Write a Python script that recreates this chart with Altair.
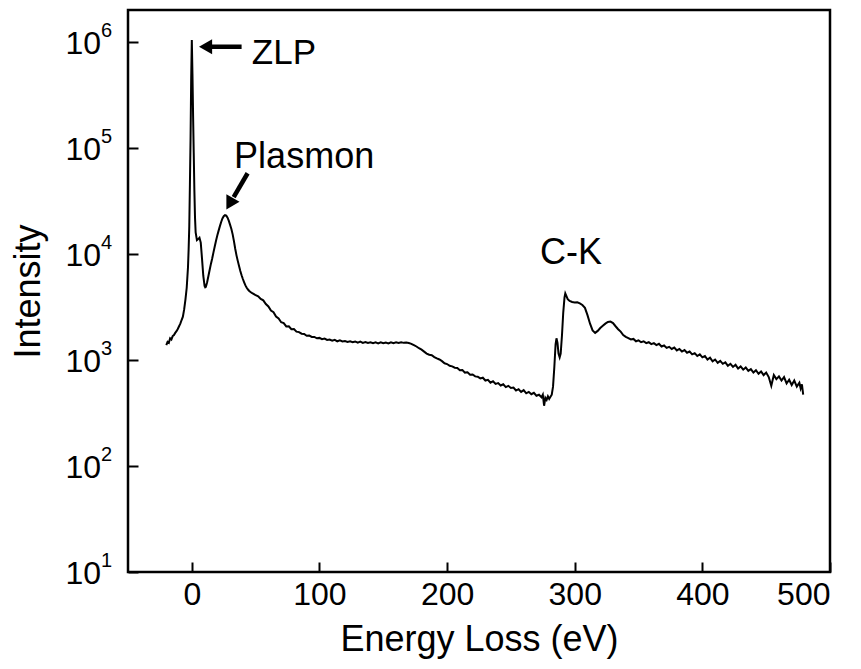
import altair as alt
import pandas as pd

# ---- spectrum (energy in eV, intensity in counts) ----
energy_zlp = [-20, -19, -18, -17, -16, -15, -14, -13, -12, -11, -10, -9, -8, -7, -6, -5, -4, -3,
              -2.5, -2, -1.5, -1, -0.5, 0, 0.5, 1, 1.5, 2, 2.5, 3,
              4, 5, 6, 7, 8, 9, 10, 10.5,
              11, 12, 13, 14, 15, 16, 17, 18, 19, 20, 21, 22, 23, 24, 25, 26, 27, 28, 29, 30,
              31, 32, 33, 34, 35, 36, 37, 38, 39, 40, 41, 42, 43, 44, 45, 46, 47, 48, 49]
intensity_zlp = [1380, 1480, 1450, 1600, 1560, 1680, 1720, 1800, 1870, 1960, 2080, 2200, 2380, 2560, 3000, 3700, 4800, 7500,
                 11000, 18000, 45000, 120000, 450000, 1040000, 500000, 200000, 90000, 40000, 22000, 16000,
                 13500, 13800, 14200, 12800, 9000, 6200, 5000, 4850,
                 4900, 5400, 6200, 7100, 8100, 9100, 10400, 11800, 13400, 15000, 16600, 18300, 20000, 21600, 22700, 23200, 23000, 22000, 20500, 18800,
                 17200, 15300, 13200, 11200, 9700, 8600, 7700, 6900, 6300, 5800, 5400, 5050, 4800, 4620, 4480, 4380, 4300, 4230, 4160]

energy_tail = [50, 52, 54, 56, 58, 60, 62, 64, 66, 68, 70, 72, 74, 76, 78, 80, 82, 84, 86, 88,
               90, 92, 94, 96, 98, 100, 102, 104, 106, 108, 110, 112, 114, 116, 118, 120, 122, 124, 126, 128,
               130, 132, 134, 136, 138, 140, 142, 144, 146, 148, 150, 152, 154, 156, 158, 160, 162, 164, 166, 168,
               170, 172, 174]
intensity_tail = [4080, 3990, 3760, 3650, 3370, 3200, 2920, 2820, 2570, 2460,
                  2270, 2230, 2070, 2080, 1950, 1960, 1850, 1830, 1770, 1760,
                  1690, 1700, 1650, 1650, 1600, 1615, 1570, 1590, 1545, 1560,
                  1520, 1550, 1500, 1530, 1495, 1510, 1480, 1500, 1470, 1495,
                  1455, 1490, 1450, 1475, 1445, 1470, 1440, 1465, 1435, 1470,
                  1440, 1460, 1435, 1470, 1440, 1465, 1445, 1470, 1450, 1460,
                  1445, 1420, 1380]

energy_pre = [176, 178, 180, 182, 184, 186, 188, 190, 192, 194, 196, 198, 200, 202, 204, 206, 208, 210, 212, 214,
              216, 218, 220, 222, 224, 226, 228, 230, 232, 234, 236, 238, 240, 242, 244, 246, 248, 250, 252, 254,
              256, 258, 260, 262, 264, 266, 268, 270, 272, 274]
intensity_pre = [1340, 1290, 1250, 1200, 1150, 1120, 1110, 1065, 1035, 1010,
                 975, 930, 915, 880, 870, 845, 840, 800, 805, 760,
                 765, 725, 730, 700, 695, 670, 680, 640, 650, 610,
                 630, 595, 605, 575, 590, 555, 570, 545, 550, 515,
                 530, 500, 520, 485, 500, 475, 490, 460, 470, 445]

energy_ck = [275, 276, 277, 278, 279, 280, 281, 282, 283, 284, 285,
             285.7, 286.5, 287.3, 288.2, 289, 290, 291, 292, 292.6, 293.5, 294.5,
             296, 298, 300, 302, 304, 306, 308, 310, 312, 314, 316, 318, 320, 322, 324, 326, 328, 330,
             332, 334, 336, 338, 340, 342]
intensity_ck = [470, 370, 440, 420, 455, 430, 450, 470, 560, 850, 1400,
                1600, 1450, 1150, 1060, 1150, 1700, 2800, 3900, 4250, 4000, 3750,
                3600, 3520, 3480, 3500, 3420, 3300, 3100, 2650, 2200, 1900, 1800, 1880, 2000, 2100, 2200, 2280, 2300, 2230,
                2080, 1950, 1850, 1720, 1650, 1610]

energy_post = [344, 346, 348, 350, 352, 354, 356, 358, 360, 362, 364, 366, 368, 370, 372, 374, 376, 378, 380, 382,
               384, 386, 388, 390, 392, 394, 396, 398, 400, 402, 404, 406, 408, 410, 412, 414, 416, 418, 420, 422,
               424, 426, 428, 430, 432, 434, 436, 438, 440, 442, 444, 446, 448, 450, 452, 454, 456, 458, 460, 462,
               464, 466, 468, 470, 472, 474, 476, 477, 478, 479]
intensity_post = [1560, 1580, 1500, 1530, 1470, 1500, 1440, 1470, 1410, 1440,
                  1380, 1420, 1340, 1370, 1300, 1330, 1270, 1310, 1230, 1270,
                  1200, 1240, 1170, 1200, 1130, 1160, 1090, 1130, 1060, 1090,
                  1010, 1050, 970, 1010, 940, 980, 920, 950, 880, 920,
                  860, 900, 830, 870, 810, 850, 790, 820, 760, 800,
                  740, 780, 720, 760, 690, 570, 720, 660, 700, 640,
                  690, 600, 650, 580, 640, 560, 610, 540, 590, 470]

x_ticks = [0, 100, 200, 300, 400, 500]
y_ticks = [10, 100, 1000, 10000, 100000, 1000000]
y_tick_base = ["10", "10", "10", "10", "10", "10"]
y_tick_exponent = ["1", "2", "3", "4", "5", "6"]

# annotations (data coordinates)
left_label_text = ["ZLP"]
left_label_x = [47]
left_label_y = [790000]
center_label_text = ["Plasmon", "C-K"]
center_label_x = [88, 297]
center_label_y = [83000, 10200]

arrow_x = [39, 43.7]
arrow_x2 = [12.5, 32.8]
arrow_y = [900000, 57700]
arrow_y2 = [900000, 34300]
head_x = [12.5, 30.5]
head_y = [900000, 31000]
head_angle = [270, 210]

energy = energy_zlp + energy_tail + energy_pre + energy_ck + energy_post
intensity = intensity_zlp + intensity_tail + intensity_pre + intensity_ck + intensity_post
df = pd.DataFrame({"E": energy, "I": intensity})

FONT = "Liberation Sans"
x_scale = alt.Scale(domain=[-50, 500], nice=False, zero=False)
y_scale = alt.Scale(type="log", domain=[10, 2000000], nice=False)

x_axis = alt.Axis(values=x_ticks, title="Energy Loss (eV)", domain=False, grid=False,
                  tickSize=10, tickWidth=2, tickColor="black", offset=-10,
                  labelFontSize=32, labelFont=FONT, labelColor="black", labelPadding=7,
                  titleFontSize=36, titleFont=FONT, titleFontWeight="normal", titleColor="black",
                  titlePadding=12)
y_axis = alt.Axis(values=y_ticks, title="Intensity", domain=False, grid=False, labels=False,
                  tickSize=10, tickWidth=2, tickColor="black", offset=-10,
                  titleFontSize=36, titleFont=FONT, titleFontWeight="normal", titleColor="black",
                  titlePadding=80)

line = alt.Chart(df).mark_line(color="black", strokeWidth=2).encode(
    x=alt.X("E:Q", scale=x_scale, axis=x_axis),
    y=alt.Y("I:Q", scale=y_scale, axis=y_axis),
    order="E:Q",
)

ylab = pd.DataFrame({"v": y_ticks, "b": y_tick_base, "e": y_tick_exponent})
ylab_base = alt.Chart(ylab).mark_text(fontSize=32, font=FONT, color="black", align="right", baseline="middle", dy=2).encode(
    x=alt.value(-27), y=alt.Y("v:Q", scale=y_scale), text="b:N",
)
ylab_exp = alt.Chart(ylab).mark_text(fontSize=20, font=FONT, color="black", align="left", baseline="middle", dy=-11).encode(
    x=alt.value(-27), y=alt.Y("v:Q", scale=y_scale), text="e:N",
)

ann_left = pd.DataFrame({"t": left_label_text, "x": left_label_x, "y": left_label_y})
texts_left = alt.Chart(ann_left).mark_text(fontSize=35, font=FONT, color="black", baseline="middle", align="left").encode(
    x=alt.X("x:Q", scale=x_scale), y=alt.Y("y:Q", scale=y_scale), text="t:N",
)
ann_center = pd.DataFrame({"t": center_label_text, "x": center_label_x, "y": center_label_y})
texts_center = alt.Chart(ann_center).mark_text(fontSize=36, font=FONT, color="black", baseline="middle", align="center").encode(
    x=alt.X("x:Q", scale=x_scale), y=alt.Y("y:Q", scale=y_scale), text="t:N",
)

arr = pd.DataFrame({"x": arrow_x, "x2": arrow_x2, "y": arrow_y, "y2": arrow_y2})
shafts = alt.Chart(arr).mark_rule(color="black", strokeWidth=4.5).encode(
    x=alt.X("x:Q", scale=x_scale), x2="x2:Q", y=alt.Y("y:Q", scale=y_scale), y2="y2:Q",
)

heads_df = pd.DataFrame({"x": head_x, "y": head_y, "ang": head_angle})
heads = alt.Chart(heads_df).mark_point(shape="triangle", filled=True, color="black", size=230, opacity=1).encode(
    x=alt.X("x:Q", scale=x_scale), y=alt.Y("y:Q", scale=y_scale),
    angle=alt.Angle("ang:Q", scale=None),
)

chart = alt.layer(line, shafts, heads, texts_left, texts_center, ylab_base, ylab_exp).properties(
    width=702, height=562,
    autosize=alt.AutoSizeParams(type="none"),
    padding={"left": 120, "top": 2, "right": 23, "bottom": 89},
    background="white",
).configure_view(stroke="black", strokeWidth=2.5)

chart.save("out.html", embed_options={"renderer": "svg", "actions": False})
